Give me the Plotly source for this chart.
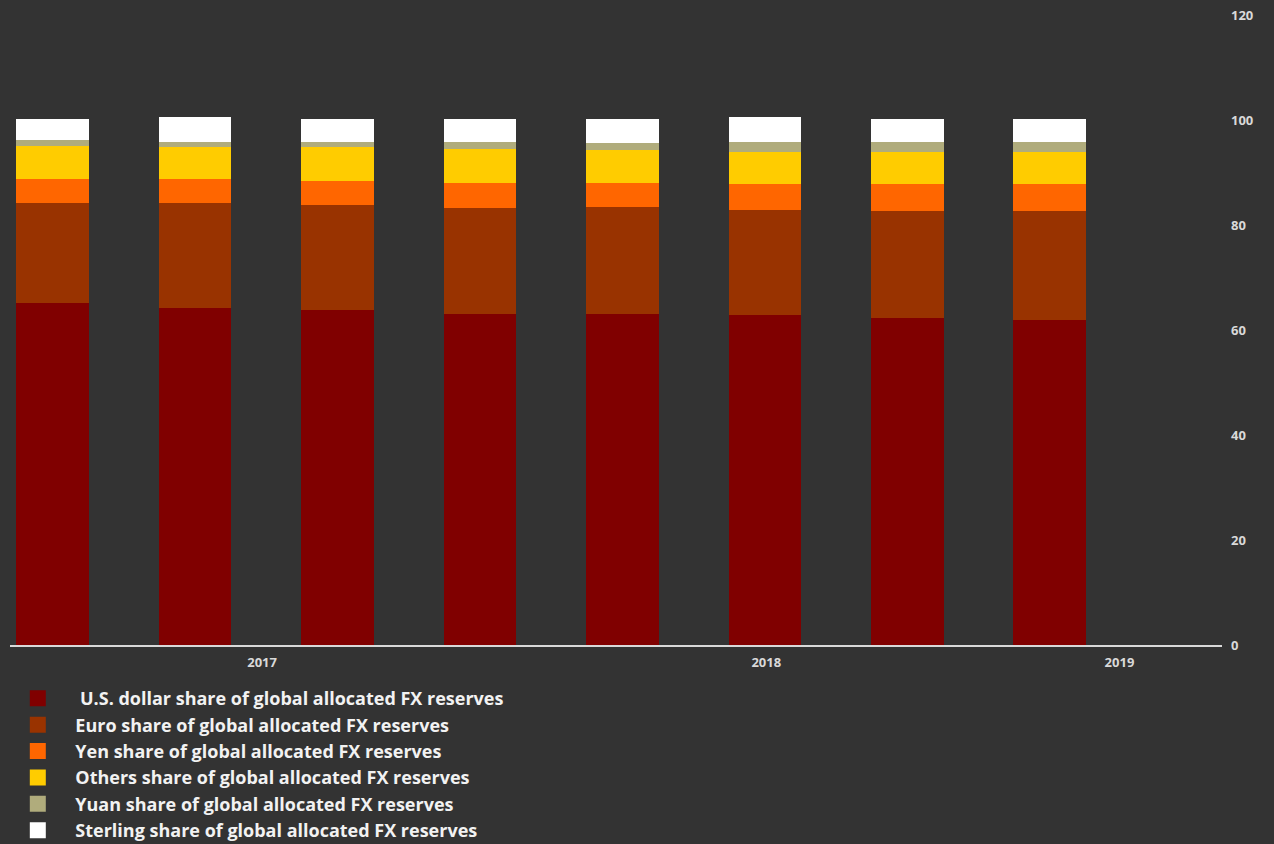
import plotly.graph_objects as go

# Quarterly bars (8 periods)
periods = [0, 1, 2, 3, 4, 5, 6, 7]
usd      = [65.1, 64.1, 63.8, 63.0, 63.0, 62.9, 62.3, 62.0]
euro     = [19.1, 20.1, 20.1, 20.2, 20.4, 20.0, 20.4, 20.6]
yen      = [4.6, 4.6, 4.4, 4.8, 4.6, 5.0, 5.1, 5.2]
others   = [6.2, 6.0, 6.5, 6.5, 6.3, 6.1, 6.2, 6.2]
yuan     = [1.1, 1.0, 1.0, 1.3, 1.3, 1.8, 1.8, 1.8]
sterling = [4.1, 4.7, 4.4, 4.4, 4.6, 4.7, 4.4, 4.4]

year_tick_pos = [1.47, 5.01, 7.49]
year_tick_labels = ["2017", "2018", "2019"]
y_ticks = [0, 20, 40, 60, 80, 100, 120]

series = [
    (" U.S. dollar share of global allocated FX reserves", usd, "#800000"),
    ("Euro share of global allocated FX reserves", euro, "#993300"),
    ("Yen share of global allocated FX reserves", yen, "#FF6600"),
    ("Others share of global allocated FX reserves", others, "#FFCC00"),
    ("Yuan share of global allocated FX reserves", yuan, "#B0AC7C"),
    ("Sterling share of global allocated FX reserves", sterling, "#FFFFFF"),
]

fig = go.Figure()
for i, (name, vals, color) in enumerate(series):
    fig.add_trace(go.Bar(
        x=periods, y=vals, name=name, width=0.51,
        marker=dict(color=color, line=dict(width=0)),
        legendgroup=f"g{i}", showlegend=False,
    ))
# legend entries (larger square swatches)
for i, (name, vals, color) in enumerate(series):
    fig.add_trace(go.Scatter(
        x=[None], y=[None], mode="markers", name=name,
        marker=dict(symbol="square", size=16, color=color, line=dict(width=0)),
        legendgroup=f"g{i}", showlegend=True, hoverinfo="skip",
    ))

fig.update_layout(
    barmode="stack",
    width=1274, height=844,
    paper_bgcolor="#333333", plot_bgcolor="#333333",
    margin=dict(l=10, r=52, t=15, b=199, autoexpand=False),
    font=dict(family="Open Sans", color="#D9D9D9"),
    legend=dict(
        x=-0.008, y=-0.0556, xanchor="left", yanchor="top",
        traceorder="normal", itemwidth=65, itemsizing="trace",
        font=dict(size=18, color="#F2F2F2", family="Open Sans", weight="bold"),
        bgcolor="rgba(0,0,0,0)", tracegroupgap=0,
    ),
    xaxis=dict(
        range=[-0.30, 8.21],
        tickmode="array", tickvals=year_tick_pos, ticktext=year_tick_labels,
        showgrid=False, zeroline=False,
        showline=True, linecolor="#D9D9D9", linewidth=2,
        layer="below traces",
        tickfont=dict(size=13, color="#D9D9D9", weight="bold"),
        ticks="", ticklabelstandoff=4,
    ),
    yaxis=dict(
        side="right", range=[0, 120],
        tickmode="array", tickvals=y_ticks,
        showgrid=False, zeroline=False, showline=False,
        tickfont=dict(size=13, color="#D9D9D9", weight="bold"),
        ticks="", ticklabelstandoff=8,
    ),
)

fig.write_html("out.html")
